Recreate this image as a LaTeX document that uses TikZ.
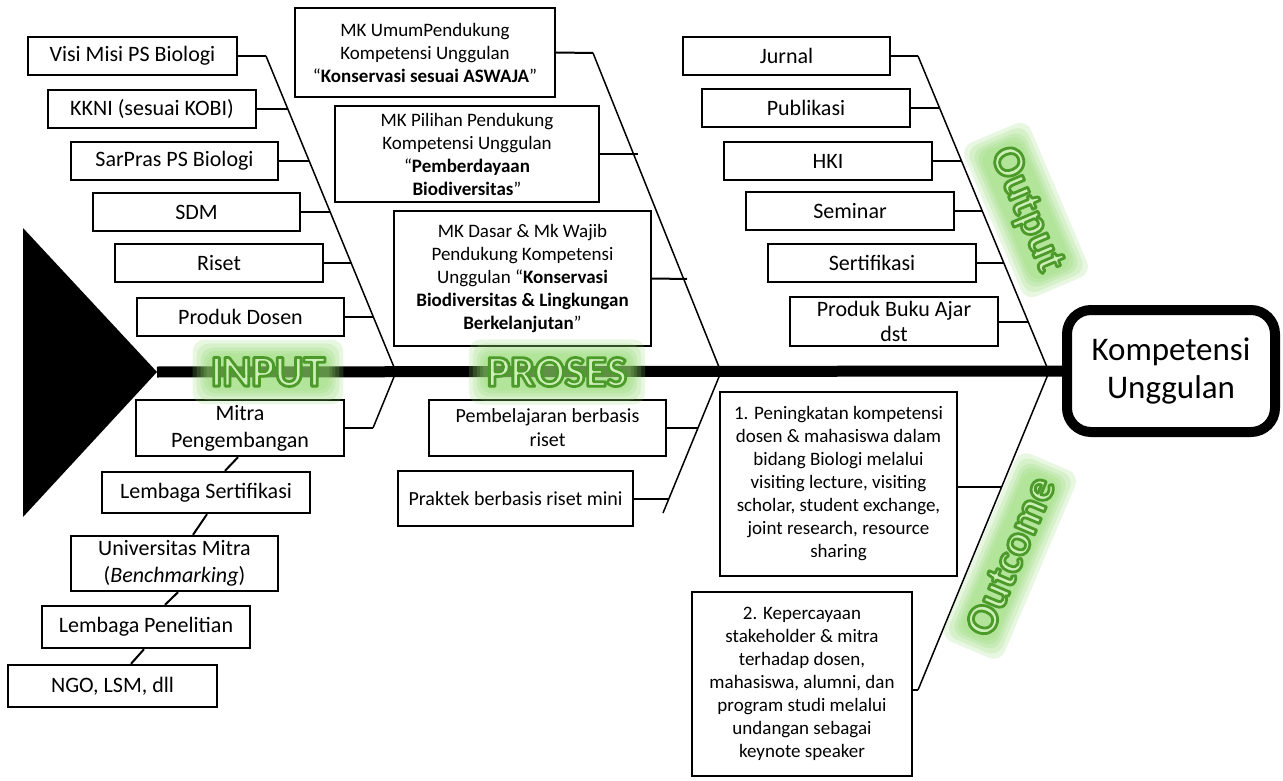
\documentclass[tikz,border=0pt]{standalone}
\usepackage{fontspec}
\setmainfont{Carlito}
\usetikzlibrary{calc}
\definecolor{glowc}{HTML}{8FD86A}
\definecolor{edgec}{HTML}{4C9A2A}
\definecolor{fillc}{HTML}{CDEFB8}
\tikzset{
  sz/.style 2 args={minimum width=#1pt, minimum height=#2pt},
  bx/.style={draw, line width=2.4pt, inner sep=0pt, align=center, font=\fontsize{22}{27}\selectfont},
  mk/.style={bx, font=\fontsize{19}{23}\selectfont},
  stub/.style={line width=2pt},
  bone/.style={line width=1.5pt},
  labfont/.style={font=\fontsize{44}{44}\selectfont\bfseries},
}
\newcommand\outl[1]{\special{pdf:literal direct 2 Tr 2.8 w 1 j 0.298 0.604 0.165 RG}#1\special{pdf:literal direct 0 Tr}}
\newcommand\glowlab[4]{%
  \foreach \r in {18,14,10,7,4}{\node[rotate=#3, fill=glowc, fill opacity=0.2, rounded corners=12pt, inner sep=\r pt, labfont] at #2 {\phantom{#4}};}
  \node[rotate=#3, text=fillc, labfont, inner sep=0pt] (#1) at #2 {\outl{#4}};
}
\begin{document}
\begin{tikzpicture}[x=1pt,y=-1pt]
\useasboundingbox (0,0) rectangle (1283,781);
\fill[white] (0,0) rectangle (1283,781);

% head and goal
\coordinate (head) at (157,372);
\fill (23,228) -- (head) -- (23,517) -- cycle;
\node[draw, line width=10pt, rounded corners=24pt, sz={208}{122}, align=center, font=\fontsize{33}{38}\selectfont] (goal) at (1171,371) {Kompetensi\\Unggulan};
\draw[line width=11pt] (head) -- (goal.west);

% bone coordinates
\coordinate (t1) at (266,56);  \coordinate (j1) at (396,372); \coordinate (b1) at (373,428);
\coordinate (t2) at (593,53);  \coordinate (j2) at (721,372); \coordinate (b2) at (663,513);
\coordinate (t3) at (918,56);  \coordinate (j3) at (1049,372); \coordinate (b3) at (918,690);
\draw[bone] (t1) -- (j1) -- (b1);
\draw[bone] (t2) -- (j2) -- (b2);
\draw[bone] (t3) -- (j3) -- (b3);

% INPUT boxes
\node[bx, sz={209}{38}] (visi) at (132.5,56) {Visi Misi PS Biologi};
\node[bx, sz={208}{38}] (kkni) at (152,109) {KKNI (sesuai KOBI)};
\node[bx, sz={207}{38}] (sarpras) at (174.5,161) {SarPras PS Biologi};
\node[bx, sz={207}{38}] (sdm) at (196.5,212) {SDM};
\node[bx, sz={208}{38}] (riset) at (219,263) {Riset};
\node[bx, sz={207}{38}] (pdosen) at (240.5,317) {Produk Dosen};
\node[bx, sz={208}{56}] (mitra) at (240,428) {Mitra\\Pengembangan};
\node[bx, sz={208}{41}] (lsert) at (206,492.5) {Lembaga Sertifikasi};
\node[bx, sz={207}{55}] (univ) at (174.5,563.5) {Universitas Mitra\\(\textit{Benchmarking})};
\node[bx, sz={208}{42}] (lpen) at (146,627) {Lembaga Penelitian};
\node[bx, sz={209}{42}] (ngo) at (112.5,686) {NGO, LSM, dll};

\coordinate (s11) at (287.8,109);
\coordinate (s12) at (309.2,161);
\coordinate (s13) at (330.1,212);
\coordinate (s14) at (351.1,263);
\coordinate (s15) at (373.3,317);
\draw[stub] (visi.east) -- (t1);
\draw[stub] (kkni.east) -- (s11);
\draw[stub] (sarpras.east) -- (s12);
\draw[stub] (sdm.east) -- (s13);
\draw[stub] (riset.east) -- (s14);
\draw[stub] (pdosen.east) -- (s15);
\draw[stub] (mitra.east) -- (b1);
\draw[stub] ($(mitra.south)+(-2,0)$) -- ($(lsert.north)+(19,0)$);
\draw[stub] ($(lsert.south)+(1,0)$) -- ($(univ.north)+(18.5,0)$);
\draw[stub] ($(univ.south)+(3.5,0)$) -- ($(lpen.north)+(19,0)$);
\draw[stub] ($(lpen.south)+(-2,0)$) -- ($(ngo.north)+(18.5,0)$);

% PROSES boxes
\node[mk, sz={260}{89}] (mkumum) at (425,52.5) {MK UmumPendukung\\Kompetensi Unggulan\\“\textbf{Konservasi sesuai ASWAJA}”};
\node[mk, sz={264}{96}] (mkpil) at (467,154) {MK Pilihan Pendukung\\Kompetensi Unggulan\\“\textbf{Pemberdayaan}\\\textbf{Biodiversitas}”};
\node[mk, sz={257}{135}] (mkdasar) at (522.5,278.5) {MK Dasar \& Mk Wajib\\Pendukung Kompetensi\\Unggulan “\textbf{Konservasi}\\\textbf{Biodiversitas \& Lingkungan}\\\textbf{Berkelanjutan}”};
\node[bx, sz={237}{56}, font=\fontsize{20}{24}\selectfont] (pemb) at (547.5,428) {Pembelajaran berbasis\\riset};
\node[bx, sz={235}{55}, font=\fontsize{20}{24}\selectfont] (prak) at (515.5,498.5) {Praktek berbasis riset mini};

\coordinate (s21) at (638,154);
\coordinate (s22) at (687,279);
\coordinate (s23) at (698,428);
\coordinate (s24) at (669,498.5);
\draw[stub] (mkumum.east) -- (t2);
\draw[stub] (mkpil.east) -- (s21);
\draw[stub] (mkdasar.east) -- (s22);
\draw[stub] (pemb.east) -- (s23);
\draw[stub] (prak.east) -- (s24);

% OUTPUT boxes
\node[bx, sz={207}{38}] (jurnal) at (786.5,56) {Jurnal};
\node[bx, sz={208}{38}] (publ) at (806,108) {Publikasi};
\node[bx, sz={208}{38}] (hki) at (828,161) {HKI};
\node[bx, sz={208}{38}] (seminar) at (850,211) {Seminar};
\node[bx, sz={208}{38}] (sertif) at (872,263) {Sertifikasi};
\node[bx, sz={208}{49}, font=\fontsize{22}{25}\selectfont] (buku) at (894,321.5) {Produk Buku Ajar\\dst};

\coordinate (s31) at (939.6,108);
\coordinate (s32) at (961.5,161);
\coordinate (s33) at (982.3,211);
\coordinate (s34) at (1004,263);
\coordinate (s35) at (1028,321.5);
\draw[stub] (jurnal.east) -- (t3);
\draw[stub] (publ.east) -- (s31);
\draw[stub] (hki.east) -- (s32);
\draw[stub] (seminar.east) -- (s33);
\draw[stub] (sertif.east) -- (s34);
\draw[stub] (buku.east) -- (s35);

% OUTCOME boxes
\node[mk, sz={237}{184}] (out1) at (838.5,484) {1. Peningkatan kompetensi\\dosen \& mahasiswa dalam\\bidang Biologi melalui\\visiting lecture, visiting\\scholar, student exchange,\\joint research, resource\\sharing};
\node[mk, sz={220}{184}] (out2) at (802,684) {2. Kepercayaan\\stakeholder \& mitra\\terhadap dosen,\\mahasiswa, alumni, dan\\program studi melalui\\undangan sebagai\\keynote speaker};
\coordinate (s41) at (1002,487);
\draw[stub] (s41 -| out1.east) -- (s41);
\draw[stub] (b3 -| out2.east) -- (b3);

% glowing labels
\glowlab{linput}{(268,372)}{0}{INPUT}
\glowlab{lproses}{(557,372)}{0}{PROSES}
\glowlab{loutput}{(1026,210)}{-67}{Output}
\glowlab{loutcome}{(1010,556)}{67}{Outcome}
\end{tikzpicture}
\end{document}
